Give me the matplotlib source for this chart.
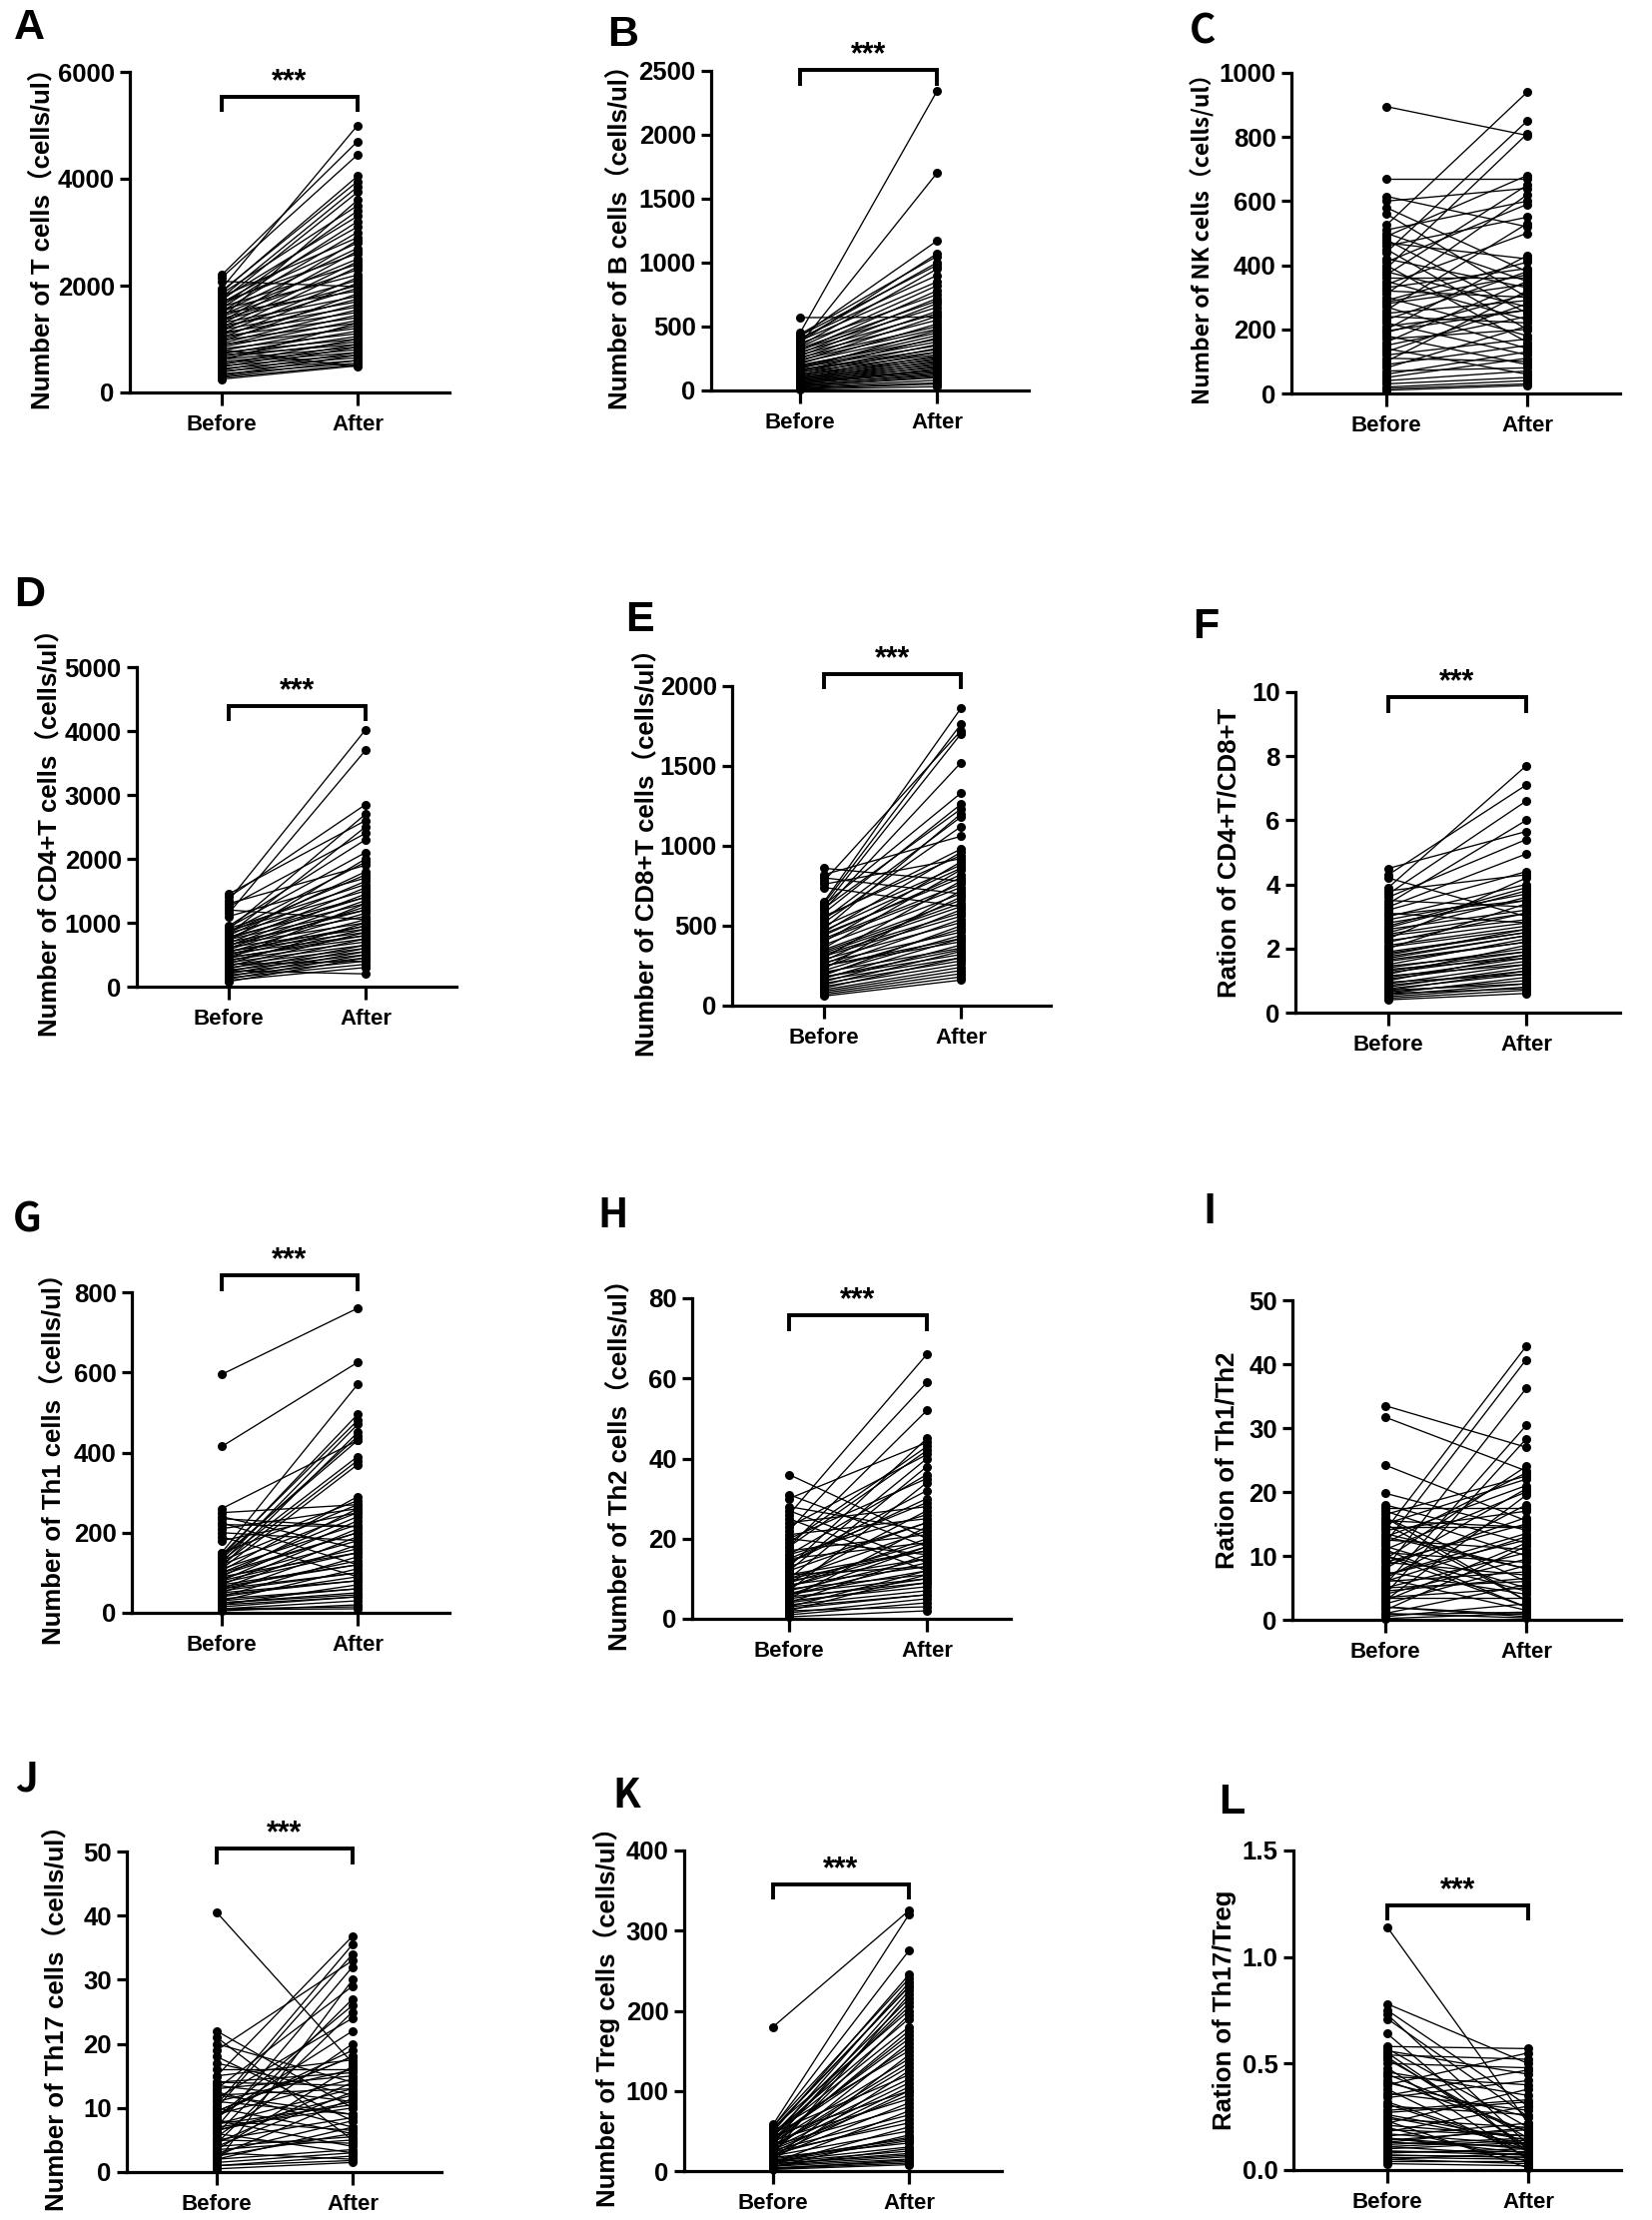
import matplotlib
matplotlib.use("Agg")
import matplotlib.pyplot as plt
from matplotlib.ticker import FormatStrFormatter

# ---------------- data ----------------
groups = ["Before", "After"]

before_A = [2200, 2150, 2080, 1950, 1900, 1880, 1850, 1800, 1780, 1750, 1720, 1700, 1680, 1650, 1620, 1600, 1580, 1550, 1520, 1500,
            1480, 1450, 1420, 1400, 1380, 1350, 1320, 1300, 1280, 1250, 1220, 1200, 1180, 1150, 1120, 1100, 1080, 1050, 1020, 1000,
            980, 950, 920, 900, 880, 850, 820, 800, 780, 750, 720, 700, 680, 650, 620, 600, 580, 550, 520, 500,
            480, 450, 420, 400, 380, 350, 320, 300, 280, 250]
after_A = [4700, 4450, 1980, 5000, 3950, 4050, 3500, 2900, 3850, 3300, 3750, 2600, 3100, 2800, 3400, 2400, 3200, 2200, 3000, 2700,
           1900, 2500, 2300, 3600, 2100, 2000, 2850, 1800, 2650, 1700, 2450, 1950, 1600, 2350, 1500, 2150, 1750, 1400, 2050, 1650,
           1300, 1850, 1550, 1200, 1450, 1350, 1100, 480, 1250, 1000, 1150, 900, 1050, 950, 850, 1300, 800, 750, 1000, 700,
           900, 650, 850, 600, 750, 550, 700, 600, 520, 500]

before_B = [570, 450, 440, 430, 420, 410, 400, 390, 380, 370, 360, 350, 340, 330, 320, 310, 300, 290, 280, 270,
            260, 250, 240, 230, 220, 210, 200, 190, 185, 180, 170, 165, 160, 150, 145, 140, 130, 125, 120, 110,
            105, 100, 95, 90, 85, 80, 75, 70, 65, 60, 55, 50, 45, 40, 35, 30, 25, 20, 15, 10]
after_B = [575, 2340, 1050, 980, 1170, 900, 1000, 850, 1070, 750, 1700, 950, 820, 700, 650, 780, 600, 720, 550, 680,
           500, 620, 480, 580, 450, 520, 400, 430, 380, 350, 470, 320, 300, 410, 280, 360, 260, 330, 240, 300,
           220, 270, 200, 250, 180, 230, 160, 210, 150, 190, 140, 170, 120, 130, 100, 110, 80, 60, 50, 30]

before_C = [895, 670, 615, 600, 580, 560, 525, 510, 500, 490, 480, 470, 460, 450, 440, 420, 410, 400, 390, 380,
            370, 360, 350, 340, 330, 320, 310, 300, 290, 280, 270, 260, 250, 240, 230, 220, 210, 200, 190, 180,
            170, 160, 150, 140, 130, 120, 110, 100, 90, 80, 70, 60, 50, 40, 30, 20, 15, 10, 285, 195]
after_C = [805, 670, 520, 640, 380, 300, 940, 600, 350, 680, 250, 420, 550, 200, 850, 330, 590, 160, 810, 270,
           650, 360, 230, 500, 390, 300, 620, 180, 410, 340, 140, 530, 290, 220, 380, 120, 260, 430, 310, 90,
           200, 350, 240, 60, 280, 170, 100, 320, 150, 210, 80, 130, 110, 70, 50, 40, 30, 25, 370, 260]

before_D = [1450, 1400, 1350, 1300, 1250, 1200, 1150, 1100, 950, 930, 910, 900, 880, 860, 840, 820, 800, 780, 760, 740,
            720, 700, 680, 660, 640, 620, 600, 580, 560, 540, 520, 500, 480, 460, 440, 420, 400, 380, 360, 340,
            320, 300, 280, 260, 240, 220, 200, 180, 160, 140, 120, 100, 80, 650, 550, 450, 750, 850, 350, 250]
after_D = [2600, 2850, 4020, 1900, 2400, 1050, 3700, 1700, 2300, 2100, 1600, 2700, 1500, 1950, 1400, 2500, 1800, 1300, 1650, 1200,
           2000, 1100, 1550, 1000, 1450, 900, 1350, 1250, 850, 1150, 800, 1050, 950, 750, 1300, 700, 900, 650, 1000, 600,
           850, 550, 750, 500, 650, 450, 600, 400, 550, 350, 500, 300, 450, 1200, 950, 800, 1400, 1750, 400, 200]

before_E = [860, 820, 800, 780, 760, 740, 650, 640, 630, 620, 610, 600, 580, 560, 540, 520, 500, 480, 460, 440,
            420, 400, 380, 360, 340, 320, 300, 290, 280, 270, 260, 250, 240, 230, 220, 210, 200, 190, 180, 170,
            160, 150, 140, 130, 120, 110, 100, 90, 80, 70, 60, 350, 450, 550, 310, 410, 250, 180, 330, 470]
after_E = [780, 1060, 700, 1720, 920, 620, 1860, 1760, 1330, 1700, 1230, 1520, 1260, 940, 1180, 1120, 880, 1200, 960, 820,
           760, 900, 700, 850, 640, 580, 780, 520, 680, 460, 600, 400, 540, 720, 480, 360, 440, 500, 320, 420,
           300, 380, 280, 340, 260, 300, 240, 220, 200, 180, 160, 660, 800, 980, 560, 740, 420, 350, 620, 860]

before_F = [4.5, 4.3, 4.2, 3.9, 3.8, 3.7, 3.6, 3.5, 3.4, 3.3, 3.2, 3.1, 3.0, 2.9, 2.8, 2.7, 2.6, 2.5, 2.4, 2.3,
            2.2, 2.1, 2.0, 1.9, 1.8, 1.7, 1.6, 1.5, 1.4, 1.3, 1.2, 1.1, 1.0, 0.9, 0.8, 0.75, 0.7, 0.65, 0.6, 0.55,
            0.5, 0.45, 0.4, 2.25, 1.85, 1.45, 1.05, 2.65, 3.05, 0.85, 1.65, 1.25, 0.95, 2.05, 1.35, 0.7, 1.75, 2.45, 1.15, 0.6]
after_F = [5.65, 7.1, 3.0, 7.7, 4.3, 6.6, 5.4, 3.3, 6.0, 4.95, 4.4, 2.8, 4.0, 3.7, 3.5, 3.9, 3.2, 3.6, 2.9, 4.2,
           3.1, 2.7, 3.4, 2.5, 2.6, 2.4, 2.2, 2.3, 2.0, 1.9, 2.1, 1.7, 1.8, 1.5, 1.4, 1.2, 1.3, 1.0, 1.1, 0.9,
           0.8, 0.7, 0.6, 2.8, 2.5, 1.9, 1.6, 3.8, 3.5, 1.3, 2.2, 1.8, 1.2, 2.6, 1.7, 0.9, 2.4, 3.1, 1.5, 0.75]

before_G = [595, 415, 260, 250, 240, 235, 225, 220, 210, 200, 190, 180, 150, 145, 140, 135, 130, 125, 120, 115,
            110, 105, 100, 95, 90, 85, 80, 75, 70, 65, 60, 55, 50, 45, 40, 35, 30, 25, 20, 15,
            10, 5, 140, 120, 100, 80, 60, 40, 130, 110, 90, 70, 50, 30, 20, 10, 150, 60, 25, 8]
after_G = [760, 625, 430, 270, 160, 215, 120, 215, 260, 180, 90, 250, 570, 480, 495, 440, 390, 470, 380, 450,
           370, 290, 240, 200, 260, 180, 230, 150, 210, 120, 190, 100, 170, 80, 140, 60, 110, 50, 70, 40,
           30, 20, 430, 250, 200, 160, 130, 90, 270, 220, 150, 120, 80, 60, 40, 15, 280, 100, 45, 10]

before_H = [36, 31, 30, 28, 27, 26, 25, 24, 23, 22, 21, 20, 19, 18, 17, 16, 15, 14, 13, 12,
            11, 10, 9.5, 9, 8.5, 8, 7.5, 7, 6.5, 6, 5.5, 5, 4.5, 4, 3.5, 3, 2.5, 2, 1.5, 1,
            0.5, 12, 10, 8, 6, 4, 14, 16, 18, 11, 9, 7, 5, 3, 15, 13, 20, 2, 6, 10]
after_H = [20, 18, 44, 22, 14, 66, 12, 28, 41, 59, 25, 16, 43, 52, 21, 36, 19, 30, 45, 24,
           17, 38, 15, 27, 13, 20, 11, 34, 10, 18, 9, 23, 8, 16, 7, 12, 6, 11, 5, 4,
           2, 40, 22, 18, 14, 9, 32, 26, 42, 13, 19, 15, 10, 6, 29, 24, 35, 3, 12, 17]

before_I = [33.5, 31.7, 24.2, 19.8, 18, 17.5, 17, 16.5, 16, 15.5, 15, 14.5, 14, 13.5, 13, 12.5, 12, 11.5, 11, 10.5,
            10, 9.5, 9, 8.5, 8, 7.5, 7, 6.5, 6, 5.5, 5, 4.5, 4, 3.5, 3, 2.5, 2, 1.5, 1, 0.5,
            0.2, 12, 10, 8, 6, 4, 2, 14, 9, 7, 5, 3, 1, 11, 13, 15, 6.5, 3.5, 0.8, 16]
after_I = [27, 23.3, 15.5, 14, 12, 17.5, 10, 22.5, 6, 14.5, 3, 14.5, 42.8, 8, 21, 11, 40.7, 5, 20, 9,
           2, 24, 7, 16, 36.2, 4, 12.5, 1.5, 13, 30.4, 10.5, 6.5, 28.3, 3.5, 19.5, 8.5, 0.8, 11.5, 5.5, 2.5,
           1, 23, 4.5, 20.5, 7.5, 9.5, 0.5, 17, 15, 13.5, 6, 12, 0.3, 2, 8, 22, 18, 5, 1.2, 3]

before_J = [40.5, 22, 21, 20, 19, 18, 17, 16, 15, 14, 13.5, 13, 12.5, 12, 11.5, 11, 10.5, 10, 9.5, 9,
            8.5, 8, 7.5, 7, 6.5, 6, 5.5, 5, 4.5, 4, 3.5, 3, 2.5, 2, 1.5, 1, 0.5, 14, 12, 10,
            8, 6, 4, 2, 11, 9, 7, 5, 3, 1, 13, 8.5, 6.5, 4.5, 15, 2.5, 7.5, 3.5, 9.5, 1.5]
after_J = [17, 10, 5, 14, 33, 8, 12, 16, 36.8, 15.5, 11, 29, 7, 13, 24, 9, 35.5, 6, 18, 14.5,
           26, 4, 10.5, 32, 12, 3, 20, 8.5, 25, 5.5, 16.5, 2, 11.5, 7, 30, 2.5, 1.5, 13.5, 9, 34,
           6.5, 27, 12.5, 3.5, 16, 19, 10, 4.5, 8, 1.8, 15, 22, 11, 14, 17.5, 6, 13, 5, 18, 3]

before_K = [180, 58, 56, 55, 54, 52, 50, 49, 48, 46, 45, 44, 42, 40, 39, 38, 36, 35, 34, 32,
            30, 29, 28, 26, 25, 24, 22, 20, 19, 18, 16, 15, 14, 12, 10, 9, 8, 6, 5, 4,
            3, 2, 33, 27, 21, 17, 11, 7, 43, 37, 31, 23, 13, 47, 41, 53, 3, 6, 9, 12]
after_K = [325, 320, 240, 275, 200, 230, 150, 245, 120, 215, 180, 100, 235, 165, 210, 90, 140, 225, 175, 80,
           130, 195, 110, 70, 160, 60, 220, 100, 50, 85, 145, 40, 125, 30, 75, 20, 55, 15, 45, 12,
           10, 8, 115, 95, 65, 35, 25, 18, 205, 170, 135, 105, 42, 190, 155, 230, 14, 28, 22, 38]

before_L = [1.14, 0.78, 0.75, 0.73, 0.71, 0.64, 0.58, 0.57, 0.56, 0.55, 0.54, 0.52, 0.5, 0.48, 0.46, 0.44, 0.42, 0.4, 0.38, 0.36,
            0.34, 0.32, 0.3, 0.28, 0.26, 0.24, 0.22, 0.2, 0.19, 0.18, 0.17, 0.16, 0.15, 0.14, 0.13, 0.12, 0.11, 0.1, 0.09, 0.08,
            0.07, 0.06, 0.05, 0.04, 0.03, 0.25, 0.35, 0.45, 0.15, 0.05, 0.21, 0.31, 0.11, 0.07, 0.41, 0.27, 0.09, 0.13, 0.53, 0.23]
after_L = [0.22, 0.5, 0.3, 0.12, 0.25, 0.08, 0.57, 0.2, 0.45, 0.1, 0.52, 0.15, 0.48, 0.05, 0.35, 0.4, 0.18, 0.55, 0.06, 0.28,
           0.42, 0.1, 0.26, 0.33, 0.14, 0.2, 0.38, 0.04, 0.16, 0.3, 0.12, 0.22, 0.08, 0.19, 0.11, 0.15, 0.07, 0.13, 0.09, 0.1,
           0.06, 0.05, 0.08, 0.04, 0.02, 0.12, 0.47, 0.18, 0.1, 0.03, 0.16, 0.09, 0.14, 0.06, 0.25, 0.32, 0.07, 0.2, 0.11, 0.01]

letters = ["A", "B", "C", "D", "E", "F", "G", "H", "I", "J", "K", "L"]
ylabels = ["Number of T cells（cells/ul）", "Number of B cells（cells/ul）", "Number of NK cells（cells/ul）",
           "Number of CD4+T cells（cells/ul）", "Number of CD8+T cells（cells/ul）", "Ration of CD4+T/CD8+T",
           "Number of Th1 cells（cells/ul）", "Number of Th2 cells（cells/ul）", "Ration of Th1/Th2",
           "Number of Th17 cells（cells/ul）", "Number of Treg cells（cells/ul）", "Ration of Th17/Treg"]
ymax = [6000, 2500, 1000, 5000, 2000, 10, 800, 80, 50, 50, 400, 1.5]
ystep = [2000, 500, 200, 1000, 500, 2, 200, 20, 10, 10, 100, 0.5]
significance = ["***", "***", "", "***", "***", "***", "***", "***", "", "***", "***", "***"]
befores = [before_A, before_B, before_C, before_D, before_E, before_F, before_G, before_H, before_I, before_J, before_K, before_L]
afters = [after_A, after_B, after_C, after_D, after_E, after_F, after_G, after_H, after_I, after_J, after_K, after_L]

# ---------------- layout (pixels in a 1654 x 2223 canvas) ----------------
W, H = 1654, 2223
# left, right, top, bottom of each axes
boxes = [(130, 450, 72, 393), (712, 1030, 71, 391), (1293, 1622, 73, 394),
         (137, 457, 668, 988), (733, 1052, 687, 1007), (1297, 1622, 693, 1014),
         (132, 450, 1294, 1615), (693, 1012, 1300, 1621), (1294, 1623, 1302, 1622),
         (127, 442, 1854, 2175), (685, 1003, 1853, 2174), (1295, 1623, 1853, 2173)]
# x of Before / After in pixels
xpos = [(222, 358), (801, 938), (1388, 1529),
        (229, 366), (825, 962), (1390, 1528),
        (222, 358), (790, 928), (1387, 1528),
        (217, 353), (774, 910), (1389, 1530)]
# ylabel centre x (px)
ylab_x = [42, 620, 1204, 49, 647, 1230, 53, 620, 1228, 56, 607, 1226]
ylab_size = [18.5, 18.5, 16.5, 18.5, 18.5, 18.5, 18.5, 18.5, 18.5, 18.5, 18.5, 18.5]
# bracket (top value, leg value) in data units
brackets = [(5530, 5250), (2505, 2383), None, (4390, 4156), (2075, 1981), (9.84, 9.35),
            (842, 802), (75.8, 71.8), None, (50.5, 48.0), (357.6, 339.0), (1.242, 1.172)]
# panel letter (left x, top y) in px
letter_pos = [(14, 8), (608, 15), (1191, 11), (14, 576), (626, 601), (1194, 608),
              (13, 1201), (598, 1197), (1204, 1193), (15, 1762), (613, 1778), (1220, 1785)]
yahei_like = {"C", "G", "H", "I", "J", "K"}

FAM = ["Liberation Sans", "Noto Sans CJK SC", "DejaVu Sans"]
plt.rcParams["font.family"] = FAM
plt.rcParams["font.weight"] = "bold"

fig = plt.figure(figsize=(W / 100, H / 100), dpi=100)
fig.patch.set_facecolor("white")

for i in range(12):
    l, r, t, b = boxes[i]
    xb, xa = xpos[i]
    unit = xa - xb
    ax = fig.add_axes([l / W, 1 - b / H, (r - l) / W, (b - t) / H])
    ax.set_xlim((l - xb) / unit, (r - xb) / unit)
    ax.set_ylim(0, ymax[i])

    for yb, ya in zip(befores[i], afters[i]):
        ax.plot([0, 1], [yb, ya], color="black", lw=0.95, marker="o", ms=6.5,
                markeredgewidth=0, clip_on=False, zorder=3)

    ax.spines["top"].set_visible(False)
    ax.spines["right"].set_visible(False)
    for s in ("left", "bottom"):
        ax.spines[s].set_linewidth(2.3)
    ax.set_xticks([0, 1])
    ax.set_xticklabels(groups, fontsize=16, fontweight="bold")
    nt = int(round(ymax[i] / ystep[i]))
    ax.set_yticks([k * ystep[i] for k in range(nt + 1)])
    if letters[i] == "L":
        ax.yaxis.set_major_formatter(FormatStrFormatter("%.1f"))
    elif letters[i] == "F":
        ax.yaxis.set_major_formatter(FormatStrFormatter("%d"))
    ax.tick_params(axis="y", length=7, width=2.3, pad=4, labelsize=18.5)
    ax.tick_params(axis="x", length=9.5, width=2.3, pad=6)
    for lab in ax.get_yticklabels():
        lab.set_fontweight("bold")

    if letters[i] == "C":
        ax.set_ylabel(ylabels[i], fontsize=ylab_size[i], fontweight="bold", va="center",
                      family=["Noto Sans CJK SC", "DejaVu Sans"])
    else:
        ax.set_ylabel(ylabels[i], fontsize=ylab_size[i], fontweight="bold", va="center")
    ax.yaxis.set_label_coords((ylab_x[i] - l) / (r - l), 0.5)

    if brackets[i] is not None:
        top, leg = brackets[i]
        ax.plot([0, 0, 1, 1], [leg, top, top, leg], color="black", lw=2.8,
                clip_on=False, solid_joinstyle="miter", solid_capstyle="butt")
        ax.text(0.5, top, significance[i], ha="center", va="bottom", fontsize=22,
                fontweight="bold", transform=ax.transData, clip_on=False)

    lx, ly = letter_pos[i]
    if letters[i] in yahei_like:
        fig.text(lx / W, 1 - ly / H, letters[i], fontsize=29, fontweight="bold",
                 ha="left", va="top", family=["Noto Sans CJK SC", "DejaVu Sans"])
    else:
        fig.text(lx / W, 1 - ly / H, letters[i], fontsize=31, fontweight="bold",
                 ha="left", va="top")

fig.savefig("out.png", dpi=100, facecolor="white")
